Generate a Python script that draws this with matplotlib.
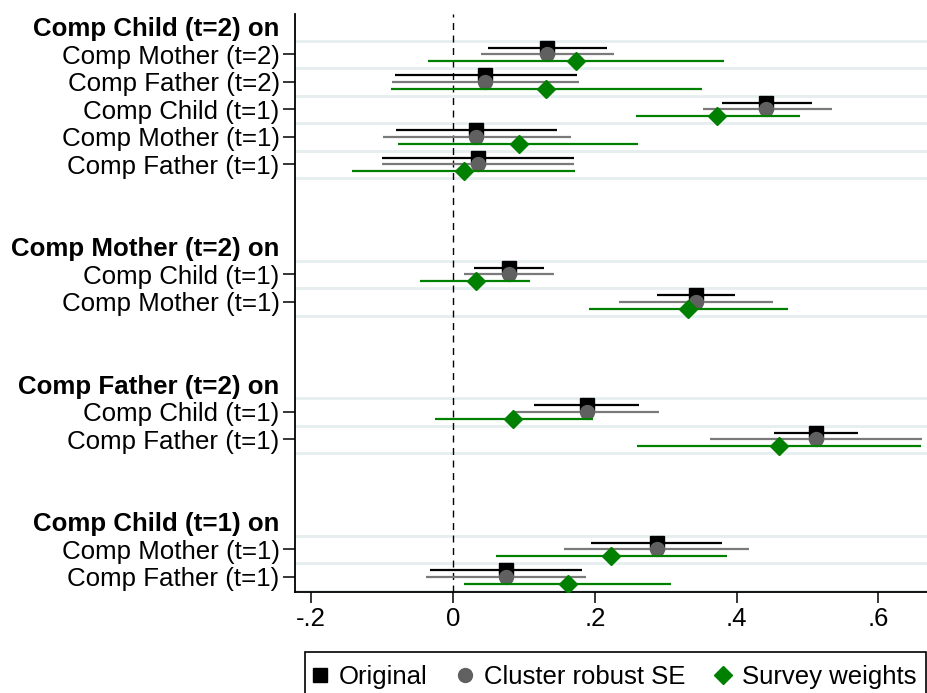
import matplotlib
matplotlib.use("Agg")
import matplotlib.pyplot as plt
from matplotlib.lines import Line2D
from matplotlib.patches import Rectangle
import numpy as np

plt.rcParams['font.family'] = ['Liberation Sans', 'DejaVu Sans']

# equation headers and the regressors listed under each one
groups = ["Comp Child (t=2) on", "Comp Mother (t=2) on",
          "Comp Father (t=2) on", "Comp Child (t=1) on"]
regressors = [
    ["Comp Mother (t=2)", "Comp Father (t=2)", "Comp Child (t=1)",
     "Comp Mother (t=1)", "Comp Father (t=1)"],
    ["Comp Child (t=1)", "Comp Mother (t=1)"],
    ["Comp Child (t=1)", "Comp Father (t=1)"],
    ["Comp Mother (t=1)", "Comp Father (t=1)"],
]

# coefficients and CI bounds, rows in the order listed above
orig_b = [0.133, 0.045, 0.442, 0.033, 0.035, 0.079, 0.343, 0.189, 0.512, 0.287, 0.075]
orig_lo = [0.049, -0.082, 0.379, -0.080, -0.100, 0.029, 0.287, 0.114, 0.453, 0.194, -0.032]
orig_hi = [0.217, 0.175, 0.506, 0.147, 0.170, 0.128, 0.398, 0.263, 0.571, 0.379, 0.182]

clus_b = [0.133, 0.045, 0.442, 0.033, 0.035, 0.079, 0.343, 0.189, 0.512, 0.287, 0.075]
clus_lo = [0.040, -0.086, 0.352, -0.099, -0.100, 0.015, 0.234, 0.087, 0.362, 0.157, -0.038]
clus_hi = [0.227, 0.178, 0.534, 0.166, 0.170, 0.142, 0.452, 0.290, 0.662, 0.417, 0.187]

svy_b = [0.173, 0.131, 0.373, 0.093, 0.015, 0.032, 0.332, 0.085, 0.460, 0.223, 0.162]
svy_lo = [-0.035, -0.088, 0.258, -0.077, -0.142, -0.046, 0.192, -0.026, 0.260, 0.061, 0.015]
svy_hi = [0.382, 0.351, 0.489, 0.261, 0.172, 0.109, 0.473, 0.197, 0.660, 0.386, 0.308]

xticks = [-0.2, 0, 0.2, 0.4, 0.6]
xticklabels = ["-.2", "0", ".2", ".4", ".6"]

# row layout: header, its rows, then two empty slots before the next header
head_pos, row_pos = [], []
p = 0
for regs in regressors:
    head_pos.append(p)
    row_pos += [p + k + 1 for k in range(len(regs))]
    p += len(regs) + 3
row_pos = np.array(row_pos, dtype=float)

W, H = 928, 693
fig = plt.figure(figsize=(W / 100, H / 100), dpi=100)
ax = fig.add_axes([295 / W, 1 - 592 / H, 1 - 295 / W, (592 - 14) / H])

# light separators around every row
for hp, regs in zip(head_pos, regressors):
    for k in range(len(regs) + 1):
        ax.axhline(hp + k + 0.5, color='#e6eef0', lw=2, zorder=0)

ax.axvline(0, color='black', lw=1, ls=(0, (5, 4)), zorder=1)

series = [
    (orig_b, orig_lo, orig_hi, -0.25, 'black', 'black', 's', 10),
    (clus_b, clus_lo, clus_hi, 0.0, '#7a7a7a', '#606060', 'o', 10),
    (svy_b, svy_lo, svy_hi, 0.25, '#008000', '#008000', 'D', 9.5),
]
for z, (b, lo, hi, off, lc, mc, mk, ms) in enumerate(series):
    y = row_pos + off
    ax.hlines(y, lo, hi, color=lc, lw=1.6, zorder=2 + 2 * z)
    ax.plot(b, y, ls='none', marker=mk, ms=ms, color=mc, zorder=3 + 2 * z)

ax.set_xlim(-0.223, 0.670)
ax.set_ylim(20.55, -0.47)
ax.set_xticks(xticks)
ax.set_xticklabels(xticklabels, fontsize=18.5)

ytick_pos = head_pos + list(row_pos)
ytick_lab = groups + [r for regs in regressors for r in regs]
ax.set_yticks(ytick_pos)
ax.set_yticklabels(ytick_lab, fontsize=18.6)
for i, t in enumerate(ax.yaxis.get_major_ticks()):
    if i < len(groups):
        t.tick1line.set_visible(False)
        t.label1.set_fontweight('bold')

ax.tick_params(axis='y', length=9, width=1.1, pad=2)
ax.tick_params(axis='x', length=8, width=1.1, pad=3)
for s in ['top', 'right']:
    ax.spines[s].set_visible(False)
for s in ['left', 'bottom']:
    ax.spines[s].set_linewidth(1.3)

# legend box runs off the bottom edge of the figure
fig.patches.append(Rectangle((305 / W, -0.05), (926 - 305) / W, 1 - 652 / H + 0.05,
                             transform=fig.transFigure, fill=False,
                             ec='black', lw=1.2))

handles = [
    Line2D([], [], ls='none', marker='s', ms=9.5, color='black'),
    Line2D([], [], ls='none', marker='o', ms=10, color='#606060'),
    Line2D([], [], ls='none', marker='D', ms=9.5, color='#008000'),
]
fig.legend(handles, ["Original", "Cluster robust SE", "Survey weights"],
           loc='center left', bbox_to_anchor=(309.5 / W, 1 - 677 / H),
           ncol=3, fontsize=18.5, frameon=False,
           borderaxespad=0, borderpad=0, handlelength=0.8,
           handletextpad=0.35, columnspacing=1.05)

fig.savefig('out.png', dpi=100)
